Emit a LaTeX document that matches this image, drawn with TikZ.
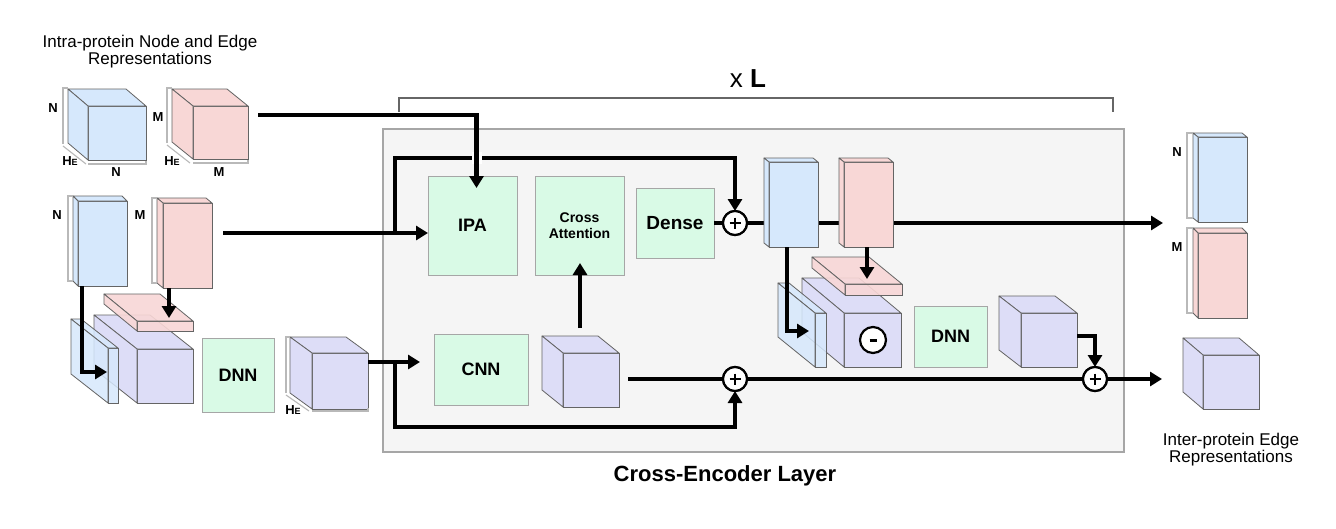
\documentclass[tikz,border=0pt]{standalone}
\usepackage{fontspec}
\setmainfont{Liberation Sans}
\usetikzlibrary{arrows.meta,calc}
\definecolor{cblue}{RGB}{214,232,252}
\definecolor{cred}{RGB}{248,215,214}
\definecolor{cpurp}{RGB}{221,221,247}
\definecolor{cgreen}{RGB}{217,250,230}
\definecolor{boxgray}{RGB}{245,245,245}
\definecolor{edgegray}{RGB}{100,100,100}
\tikzset{
 cubeface/.style={draw=edgegray, line width=0.8pt, inner sep=0pt, outer sep=0pt},
 cubeedge/.style={draw=edgegray, line width=0.8pt, line join=round},
 block/.style={draw=gray!70, line width=1pt, fill=cgreen, inner sep=0pt, outer sep=0pt, anchor=north west, font=\fontsize{18}{20}\selectfont\bfseries, align=center},
 flow/.style={line width=4.2pt, draw=black},
 arr/.style={flow, -{Triangle[length=12pt,width=14pt]}},
 opcirc/.style={circle, draw=black, line width=2.2pt, fill=white, minimum size=24pt, inner sep=0pt, outer sep=0pt},
 dimline/.style={draw=gray!55, line width=1.1pt},
 dimlab/.style={font=\fontsize{13}{13}\selectfont\bfseries, inner sep=0pt},
 caption/.style={font=\fontsize{17}{17}\selectfont, align=center, inner sep=0pt},
}
\newcommand\mycube[9][]{%
 \node[cubeface, fill=#3, minimum width=#6pt, minimum height=#7pt, anchor=north west, #1] (#2) at (#4,#5) {};
 \draw[cubeedge, fill=#3, #1] (#2.north west) -- ++(#8,#9) -- ++(#6,0) -- (#2.north east) -- cycle;
 \draw[cubeedge, fill=#3, #1] (#2.north west) -- ++(#8,#9) -- ++(0,#7) -- (#2.south west) -- cycle;
}
\newcommand\HE{H{\fontsize{9}{9}\selectfont E}}
\begin{document}
\begin{tikzpicture}[x=1pt,y=-1pt]
\useasboundingbox (0,0) rectangle (1336,528);
\fill[white] (0,0) rectangle (1336,528);

% layer box
\node[draw=gray!70, fill=boxgray, line width=1.2pt, minimum width=741pt, minimum height=323pt, anchor=north west, inner sep=0pt, outer sep=0pt] (layer) at (383,129) {};
\node[font=\fontsize{22}{22}\selectfont\bfseries] (laytitle) at (725,476) {Cross-Encoder Layer};
\draw[gray!80!black, line width=1.2pt] (399,112) -- (399,98) -- (1113,98) -- (1113,112);
\node[font=\fontsize{26}{26}\selectfont] (xl) at (748,79) {x \textbf{L}};

% captions
\node[caption] (intitle) at (150,52) {Intra-protein Node and Edge\\Representations};
\node[caption] (outtitle) at (1231,450) {Inter-protein Edge\\Representations};

% long flow lines that run under boxes
\coordinate (j1) at (395,233);
\coordinate (j1top) at (395,158);
\draw[arr] (j1) -- (j1top) -| (735,211);
\draw[white, line width=10pt] (476.5,152) -- (476.5,164);

% input cubes
\mycube{c1}{cblue}{88}{106}{58}{54}{-20}{-17}
\mycube{c2}{cred}{193}{106}{55}{53}{-21}{-17}
\mycube{tn}{cblue}{78}{201}{49}{85}{-5}{-5}
\mycube{tm}{cred}{163}{203}{49}{85}{-6}{-5}

% dimension brackets
\draw[dimline] (68,88) -- (63,88) -- (63,144);
\draw[dimline] (63,146) -- (86,164);
\draw[dimline] (88,164) -- (146,164) -- (146,161);
\draw[dimline] (172,88) -- (167,88) -- (167,143);
\draw[dimline] (167,145) -- (190,163);
\draw[dimline] (193,163) -- (248,163) -- (248,160);
\draw[dimline] (73,196) -- (68,196) -- (68,281) -- (73,281);
\draw[dimline] (157,198) -- (152,198) -- (152,283) -- (157,283);
\node[dimlab] (l1) at (53,108) {N};
\node[dimlab] (l2) at (70,161) {\HE};
\node[dimlab] (l3) at (116,172) {N};
\node[dimlab] (l4) at (158,117) {M};
\node[dimlab] (l5) at (172,161) {\HE};
\node[dimlab] (l6) at (219,172) {M};
\node[dimlab] (l7) at (57,215) {N};
\node[dimlab] (l8) at (140,215) {M};

% left cluster
\mycube{pc1}{cpurp}{137}{349}{56}{54}{-43}{-34}
\mycube[fill opacity=0.9]{ps1}{cred}{137}{321}{56}{10}{-33}{-27}
\mycube[fill opacity=0.85]{bs1}{cblue}{108}{348}{10}{55}{-37}{-29}
\node[block, minimum width=72pt, minimum height=74pt] (dnn1) at (202,338) {DNN};
\mycube{c3}{cpurp}{312}{353}{56}{56}{-22}{-16}
\draw[dimline] (290,337) -- (286,337) -- (286,393);
\draw[dimline] (286,395) -- (309,411);
\draw[dimline] (312,411) -- (368,411) -- (368,408);
\node[dimlab] (l9) at (293,410) {\HE};

% blocks inside layer
\node[block, minimum width=89pt, minimum height=99pt] (ipa) at (428,176) {IPA};
\node[block, minimum width=89pt, minimum height=99pt, font=\fontsize{14}{16}\selectfont\bfseries] (ca) at (535,176) {Cross\\Attention};
\node[block, minimum width=78pt, minimum height=70pt, font=\fontsize{19}{20}\selectfont\bfseries] (dense) at (636,188) {Dense};
\node[block, minimum width=94pt, minimum height=71pt] (cnn) at (434,334) {CNN};
\mycube{c4}{cpurp}{563}{353}{56}{54}{-21}{-17}

% circles
\node[opcirc] (p1) at (735,223) {};
\node[opcirc] (p2) at (735,379) {};
\node[opcirc] (p3) at (1095,379) {};

% top flow through node / edge boxes (under them)
\draw[flow] (dense.east) -- (p1.west);
\draw[arr] (p1.east) -- ($(p1.east -| 1198,0)+(-35,0)$);
\mycube{nb}{cblue}{769}{162}{49}{85}{-5}{-4}
\mycube{mr}{cred}{844}{162}{49}{85}{-5}{-4}

% middle-right cluster
\mycube{pc2}{cpurp}{844}{313}{57}{54}{-42}{-35}
\mycube[fill opacity=0.9]{ps2}{cred}{845}{284}{57}{11}{-33}{-27}
\mycube[fill opacity=0.85]{bs2}{cblue}{815}{313}{11}{54}{-37}{-30}
\node[opcirc, minimum size=26pt] (mc) at (873,340) {};
\draw[line width=3pt] ($(mc.center)+(-3.5,0)$) -- ($(mc.center)+(3.5,0)$);
\node[block, minimum width=73pt, minimum height=61pt] (dnn2) at (914,306) {DNN};
\mycube{c5}{cpurp}{1021}{313}{56}{54}{-22}{-17}

% outputs
\mycube{on}{cblue}{1198}{137}{49}{85}{-5}{-4}
\mycube{om}{cred}{1198}{233}{49}{85}{-5}{-5}
\mycube{oc}{cpurp}{1203}{355}{56}{54}{-20}{-17}
\draw[dimline] (1193,133) -- (1187,133) -- (1187,218) -- (1193,218);
\draw[dimline] (1193,228) -- (1187,228) -- (1187,313) -- (1193,313);
\node[dimlab] (l10) at (1177,152) {N};
\node[dimlab] (l11) at (1177,247) {M};

% arrows
\draw[arr] ($(c2.north east)+(10,9)$) -| ($(ipa.north)+(4,12)$);
\coordinate (a2s) at ($(tm.north east)+(11,30)$);
\draw[arr] (a2s) -- (a2s -| ipa.west);
\draw[arr] ($(tn.south west)+(4,0)$) |- ($(bs1.north west)+(-1,24)$);
\draw[arr] ($(tm.south west)+(6,0)$) -- ($(ps1.north west)+(32,-3)$);
\coordinate (a12s) at ($(c3.north east)+(0,9)$);
\draw[arr] (a12s) -- ($(a12s -| cnn.west)+(-14,0)$);
\coordinate (j2) at (395,362);
\coordinate (j2bot) at (395,427);
\draw[arr] (j2) -- (j2bot) -| (p2.south);
\coordinate (a14s) at ($(c4.north)+(-11,-25)$);
\draw[arr] (a14s) -- ($(a14s |- ca.south)+(0,-12)$);
\coordinate (a15s) at ($(c4.east)+(9,-1)$);
\draw[flow] (a15s) -- (p2.west);
\draw[flow] (p2.east) -- (p3.west);
\draw[arr] (p3.east) -- ++(55,0);
\draw[arr] ($(c5.north east)+(0,23)$) -| (p3.north);
\draw[arr] ($(nb.south west)+(18,0)$) |- ($(bs2.north west)+(-6,18)$);
\draw[arr] ($(mr.south west)+(23,0)$) -- ($(ps2.north west)+(22,-5)$);

% redraw circles on top with plus signs
\foreach \p in {p1,p2,p3}{
 \node[opcirc] at (\p) {};
 \draw[line width=2.8pt] ($(\p.center)+(-5.5,0)$) -- ($(\p.center)+(5.5,0)$);
 \draw[line width=2.8pt] ($(\p.center)+(0,-5.5)$) -- ($(\p.center)+(0,5.5)$);
}
\end{tikzpicture}
\end{document}
